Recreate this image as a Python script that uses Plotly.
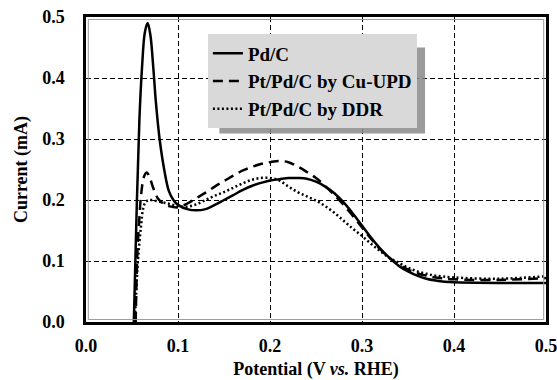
import plotly.graph_objects as go

# Pd/C (solid)
pdc_x = [0.052, 0.055, 0.058, 0.061, 0.064, 0.067, 0.070, 0.073, 0.076, 0.080, 0.085, 0.090, 0.095,
         0.100, 0.110, 0.120, 0.130, 0.140, 0.150, 0.160, 0.170, 0.180, 0.190, 0.200, 0.210, 0.220,
         0.230, 0.240, 0.250, 0.260, 0.270, 0.280, 0.290, 0.300, 0.310, 0.320, 0.330, 0.340, 0.350,
         0.360, 0.370, 0.380, 0.390, 0.400, 0.450, 0.500]
pdc_y = [0.0, 0.18, 0.33, 0.42, 0.475, 0.49, 0.47, 0.42, 0.36, 0.30, 0.25, 0.215, 0.200,
         0.192, 0.185, 0.183, 0.185, 0.192, 0.200, 0.208, 0.216, 0.223, 0.228, 0.232, 0.234, 0.236,
         0.236, 0.235, 0.230, 0.222, 0.211, 0.196, 0.178, 0.158, 0.138, 0.120, 0.105, 0.092, 0.083,
         0.076, 0.071, 0.068, 0.066, 0.065, 0.064, 0.064]

# Pt/Pd/C by Cu-UPD (dashed)
cu_x = [0.054, 0.056, 0.058, 0.060, 0.063, 0.066, 0.069, 0.073, 0.078, 0.085, 0.090, 0.100, 0.110,
        0.120, 0.130, 0.140, 0.150, 0.160, 0.170, 0.180, 0.190, 0.200, 0.210, 0.220, 0.230, 0.240,
        0.250, 0.260, 0.270, 0.280, 0.290, 0.300, 0.310, 0.320, 0.330, 0.340, 0.350, 0.360, 0.370,
        0.380, 0.400, 0.450, 0.500]
cu_y = [0.0, 0.12, 0.17, 0.21, 0.238, 0.245, 0.238, 0.220, 0.203, 0.193, 0.190, 0.188, 0.194,
        0.203, 0.212, 0.222, 0.231, 0.240, 0.248, 0.254, 0.259, 0.262, 0.264, 0.262, 0.255, 0.246,
        0.236, 0.223, 0.208, 0.192, 0.174, 0.155, 0.136, 0.119, 0.105, 0.094, 0.086, 0.080, 0.076,
        0.073, 0.070, 0.069, 0.072]

# Pt/Pd/C by DDR (dotted)
ddr_x = [0.053, 0.056, 0.058, 0.060, 0.062, 0.065, 0.070, 0.080, 0.090, 0.100, 0.110, 0.120, 0.130,
         0.140, 0.150, 0.160, 0.170, 0.180, 0.190, 0.200, 0.210, 0.220, 0.230, 0.240, 0.250, 0.260,
         0.270, 0.280, 0.290, 0.300, 0.310, 0.320, 0.330, 0.340, 0.350, 0.360, 0.370, 0.380, 0.400,
         0.450, 0.500]
ddr_y = [0.0, 0.09, 0.13, 0.16, 0.185, 0.197, 0.200, 0.197, 0.194, 0.190, 0.189, 0.193, 0.200,
         0.207, 0.213, 0.220, 0.227, 0.233, 0.236, 0.236, 0.232, 0.222, 0.213, 0.206, 0.199, 0.190,
         0.179, 0.166, 0.153, 0.141, 0.128, 0.116, 0.105, 0.097, 0.089, 0.083, 0.079, 0.076, 0.073,
         0.071, 0.075]

names = ["Pd/C", "Pt/Pd/C by Cu-UPD", "Pt/Pd/C by DDR"]
x_ticks = [0.0, 0.1, 0.2, 0.3, 0.4, 0.5]
y_ticks = [0.0, 0.1, 0.2, 0.3, 0.4, 0.5]

FONT = "Liberation Serif"

fig = go.Figure()
fig.add_trace(go.Scatter(x=pdc_x, y=pdc_y, name=names[0], mode="lines", line_shape="spline",
                         line=dict(color="black", width=2.5)))
fig.add_trace(go.Scatter(x=cu_x, y=cu_y, name=names[1], mode="lines", line_shape="spline",
                         line=dict(color="black", width=2.5, dash="10px,6px")))
fig.add_trace(go.Scatter(x=ddr_x, y=ddr_y, name=names[2], mode="lines", line_shape="spline",
                         line=dict(color="black", width=2.5, dash="2px,2.5px")))

axis_common = dict(
    showline=True, linecolor="black", linewidth=2.5, mirror=True,
    showgrid=True, gridcolor="black", gridwidth=1, griddash="5px,3px",
    zeroline=False, ticks="", tickformat=".1f", automargin=False,
    ticklabeloverflow="allow",
    tickfont=dict(family=FONT, size=18, color="black", weight="bold"),
)

fig.update_xaxes(range=[0, 0.5], tickvals=x_ticks, **axis_common, ticklabelstandoff=6,
                 title=dict(text="<b>Potential (V <i>vs.</i> RHE)</b>", font=dict(family=FONT, size=18, color="black"),
                            standoff=15))
fig.update_yaxes(range=[0, 0.5], tickvals=y_ticks, **axis_common, ticklabelstandoff=15,
                 title=dict(text="<b>Current (mA)</b>", font=dict(family=FONT, size=18, color="black"),
                            standoff=10))

# inner gray frame line (double-line look)
fig.add_shape(type="rect", xref="x domain", yref="y domain", x0=0.005, x1=0.995, y0=0.008, y1=0.992,
              fillcolor="rgba(0,0,0,0)", line=dict(color="#9a9a9a", width=1), layer="above")

# legend shadow
fig.add_shape(type="rect", xref="paper", yref="paper", x0=0.29, x1=0.737, y0=0.618, y1=0.90,
              fillcolor="#8a8a8a", line=dict(width=0), layer="above", opacity=0.85)

fig.update_layout(
    width=557, height=380,
    margin=dict(l=86, r=11, t=17, b=58),
    paper_bgcolor="white", plot_bgcolor="white",
    showlegend=True,
    legend=dict(x=0.265, y=0.943, xanchor="left", yanchor="top",
                bgcolor="#d9d9d9", bordercolor="#d9d9d9", borderwidth=0,
                font=dict(family=FONT, size=19, color="black", weight="bold"),
                itemwidth=30),
)

fig.write_html("out.html")
